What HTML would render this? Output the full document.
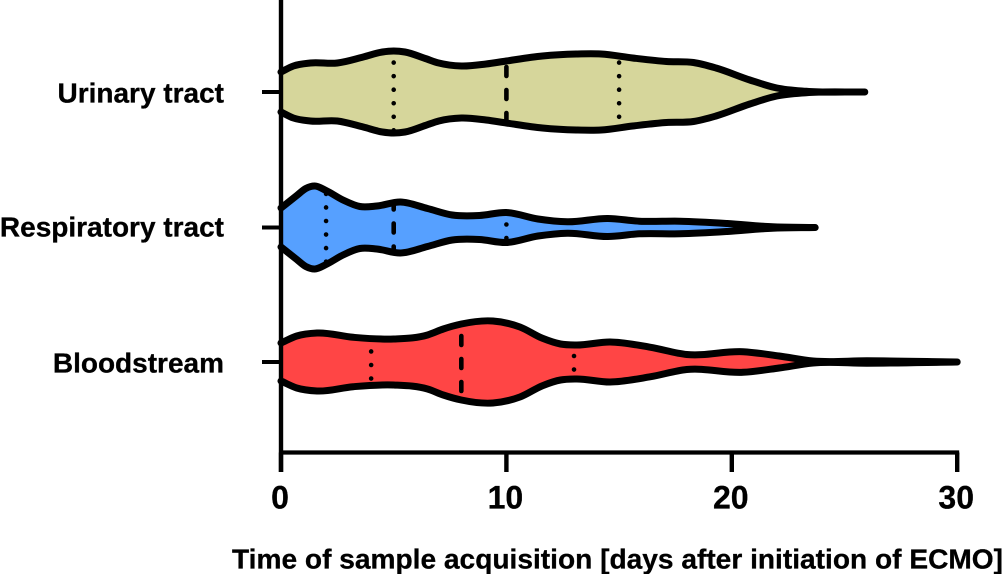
<!DOCTYPE html>
<html>
<head>
<meta charset="utf-8">
<title>Violin chart</title>
<style>
html,body{margin:0;padding:0;background:#fff;width:1004px;height:574px;overflow:hidden}
svg{display:block}
text{font-family:"Liberation Sans",Arial,sans-serif;font-weight:700;fill:#000;stroke:#000;stroke-width:.3px}
</style>
</head>
<body>
<svg id="chart" width="1004" height="574" viewBox="0 0 1004 574" xmlns="http://www.w3.org/2000/svg"></svg>
<script>
const categories = ["Urinary tract", "Respiratory tract", "Bloodstream"];
const xTicks = [0, 10, 20, 30];
const xTitle = "Time of sample acquisition [days after initiation of ECMO]";

const urinaryDays = [0, 0.55, 1.3, 2.5, 3.65, 4.5, 5, 5.5, 6.4, 7, 8, 9.1, 10, 11.6, 13.1, 14.2, 15.6, 17.1, 18.3, 19.3, 20.8, 22, 23.3, 25.9];
const urinaryDensity = [20, 26, 29, 29, 35, 40, 41, 40, 33.5, 29, 26, 28, 31, 36, 38, 38, 34, 30.5, 29.5, 24, 12, 4, 0.7, 0];
const urinaryQuartiles = [5, 10, 15];

const respiratoryDays = [0, 0.7, 1.1, 1.5, 2, 2.75, 3.5, 4.25, 5.3, 6.5, 7.6, 8.8, 10, 11.4, 12.7, 14.5, 15.9, 17.7, 19.8, 21.8, 23.7];
const respiratoryDensity = [19.5, 32, 39, 41.5, 37, 27.5, 21, 21.5, 25.5, 19, 12.5, 12, 15, 8.5, 5.7, 9, 6.3, 6.3, 4, 0.7, 0];
const respiratoryQuartiles = [2, 5, 10];

const bloodDays = [0, 0.7, 1.6, 3.2, 5, 6.5, 7.2, 8, 9.4, 10.6, 11.6, 12.4, 13.1, 14.6, 16.4, 18, 20.5, 22.1, 23.6, 26, 30];
const bloodDensity = [19, 26, 29, 24.7, 23, 27, 33, 38, 41, 35, 23.7, 18, 17, 20, 14.7, 7.5, 10.3, 6, 1, 1.2, 0];
const bloodQuartiles = [4, 8, 13];

const seriesDays = [urinaryDays, respiratoryDays, bloodDays];
const seriesDensity = [urinaryDensity, respiratoryDensity, bloodDensity];
const seriesQuartiles = [urinaryQuartiles, respiratoryQuartiles, bloodQuartiles];

const seriesKeys = ["urinary-tract", "respiratory-tract", "bloodstream"];
const fills = ["#D6D69B", "#56A0FF", "#FF4545"];
const bandCenters = [92, 227.5, 362];
const labelBaselines = [102.3, 236.7, 372.5];
const dotPhase = [
  [-2.3, -2, -2.3],
  [-6.5, -4, -3],
  [3, -3, -6]
];

const svg = document.getElementById("chart");
const NS = "http://www.w3.org/2000/svg";
const xAxisY = 452.5;
const xScale = d => 281 + d * 22.54;
const maxDensity = 41;
const maxHalfWidth = 41;
const wScale = v => v / maxDensity * maxHalfWidth;

function slopes(pts) {
  const n = pts.length, m = [];
  for (let i = 0; i < n; i++) {
    if (i === 0) m.push((pts[1][1] - pts[0][1]) / (pts[1][0] - pts[0][0]));
    else if (i === n - 1) m.push((pts[n - 1][1] - pts[n - 2][1]) / (pts[n - 1][0] - pts[n - 2][0]));
    else {
      const h0 = pts[i][0] - pts[i - 1][0], h1 = pts[i + 1][0] - pts[i][0];
      const s0 = (pts[i][1] - pts[i - 1][1]) / h0, s1 = (pts[i + 1][1] - pts[i][1]) / h1;
      m.push((s0 * h1 + s1 * h0) / (h0 + h1));
    }
  }
  return m;
}
function curve(pts, reverse) {
  const m = slopes(pts);
  let s = "";
  if (!reverse) {
    for (let i = 0; i < pts.length - 1; i++) {
      const h = (pts[i + 1][0] - pts[i][0]) / 3;
      s += "C" + (pts[i][0] + h).toFixed(2) + " " + (pts[i][1] + m[i] * h).toFixed(2) + " " + (pts[i + 1][0] - h).toFixed(2) + " " + (pts[i + 1][1] - m[i + 1] * h).toFixed(2) + " " + pts[i + 1][0].toFixed(2) + " " + pts[i + 1][1].toFixed(2);
    }
  } else {
    for (let i = pts.length - 1; i > 0; i--) {
      const h = (pts[i][0] - pts[i - 1][0]) / 3;
      s += "C" + (pts[i][0] - h).toFixed(2) + " " + (pts[i][1] - m[i] * h).toFixed(2) + " " + (pts[i - 1][0] + h).toFixed(2) + " " + (pts[i - 1][1] + m[i - 1] * h).toFixed(2) + " " + pts[i - 1][0].toFixed(2) + " " + pts[i - 1][1].toFixed(2);
    }
  }
  return s;
}
function densityAt(days, dens, d) {
  if (d <= days[0]) return dens[0];
  for (let i = 0; i < days.length - 1; i++) {
    if (d <= days[i + 1]) {
      const t = (d - days[i]) / (days[i + 1] - days[i]);
      return dens[i] + (dens[i + 1] - dens[i]) * t;
    }
  }
  return 0;
}

categories.forEach((cat, i) => {
  const days = seriesDays[i], dens = seriesDensity[i], cy = bandCenters[i];
  const top = days.map((d, k) => [xScale(d), cy - wScale(dens[k])]);
  const bottom = days.map((d, k) => [xScale(d), cy + wScale(dens[k])]);
  const outline = "M" + top[0][0].toFixed(2) + " " + top[0][1].toFixed(2) + curve(top, false) + curve(bottom, true);

  const fill = document.createElementNS(NS, "path");
  fill.setAttribute("d", outline + "Z");
  fill.setAttribute("fill", fills[i]);
  
  
  svg.appendChild(fill);

  seriesQuartiles[i].forEach((q, k) => {
    const h = wScale(densityAt(days, dens, q));
    const line = document.createElementNS(NS, "line");
    const isMedian = k === 1;
    const period = isMedian ? 23 : 13.55;
    const anchor = cy + dotPhase[i][k];
    const y1 = cy - h;
    line.setAttribute("x1", xScale(q));
    line.setAttribute("x2", xScale(q));
    line.setAttribute("y1", y1);
    line.setAttribute("y2", cy + h);
    line.setAttribute("stroke", "#000");
    line.setAttribute("stroke-linecap", "round");
    line.setAttribute("stroke-width", 4.6);
    line.setAttribute("stroke-dasharray", isMedian ? "9 14" : "0 13.55");
    line.setAttribute("stroke-dashoffset", (((y1 - anchor) % period) + period) % period);
    
    
    svg.appendChild(line);
  });

  const stroke = document.createElementNS(NS, "path");
  stroke.setAttribute("d", outline);
  stroke.setAttribute("fill", "none");
  stroke.setAttribute("stroke", "#000");
  stroke.setAttribute("stroke-width", 7);
  stroke.setAttribute("stroke-linecap", "round");
  stroke.setAttribute("stroke-linejoin", "round");
  
  
  svg.appendChild(stroke);

  const tick = document.createElementNS(NS, "line");
  tick.setAttribute("x1", 262);
  tick.setAttribute("x2", 281);
  tick.setAttribute("y1", cy);
  tick.setAttribute("y2", cy);
  tick.setAttribute("stroke", "#000");
  tick.setAttribute("stroke-width", 4);
  
  
  svg.appendChild(tick);

  const label = document.createElementNS(NS, "text");
  label.setAttribute("x", 224);
  label.setAttribute("y", labelBaselines[i]);
  label.setAttribute("text-anchor", "end");
  label.setAttribute("font-size", "28");
  
  
  label.textContent = cat;
  svg.appendChild(label);
});

const yAxis = document.createElementNS(NS, "line");
yAxis.setAttribute("x1", 281);
yAxis.setAttribute("x2", 281);
yAxis.setAttribute("y1", 0);
yAxis.setAttribute("y2", 472);
yAxis.setAttribute("stroke", "#000");
yAxis.setAttribute("stroke-width", 4.4);


svg.appendChild(yAxis);

const xAxis = document.createElementNS(NS, "line");
xAxis.setAttribute("x1", xScale(xTicks[0]));
xAxis.setAttribute("x2", xScale(xTicks[xTicks.length - 1]) + 2);
xAxis.setAttribute("y1", xAxisY);
xAxis.setAttribute("y2", xAxisY);
xAxis.setAttribute("stroke", "#000");
xAxis.setAttribute("stroke-width", 4.2);


svg.appendChild(xAxis);

xTicks.forEach(t => {
  const tick = document.createElementNS(NS, "line");
  tick.setAttribute("x1", xScale(t));
  tick.setAttribute("x2", xScale(t));
  tick.setAttribute("y1", xAxisY);
  tick.setAttribute("y2", 472);
  tick.setAttribute("stroke", "#000");
  tick.setAttribute("stroke-width", 4.4);
  
  
  svg.appendChild(tick);

  const label = document.createElementNS(NS, "text");
  label.setAttribute("x", xScale(t) - 1);
  label.setAttribute("y", 508.3);
  label.setAttribute("text-anchor", "middle");
  label.setAttribute("font-size", "32");
  
  
  label.textContent = t;
  svg.appendChild(label);
});

const title = document.createElementNS(NS, "text");
title.setAttribute("x", 232);
title.setAttribute("y", 568.3);
title.setAttribute("font-size", "28");
title.setAttribute("textLength", "771");
title.setAttribute("lengthAdjust", "spacingAndGlyphs");


title.textContent = xTitle;
svg.appendChild(title);
</script>
</body>
</html>
